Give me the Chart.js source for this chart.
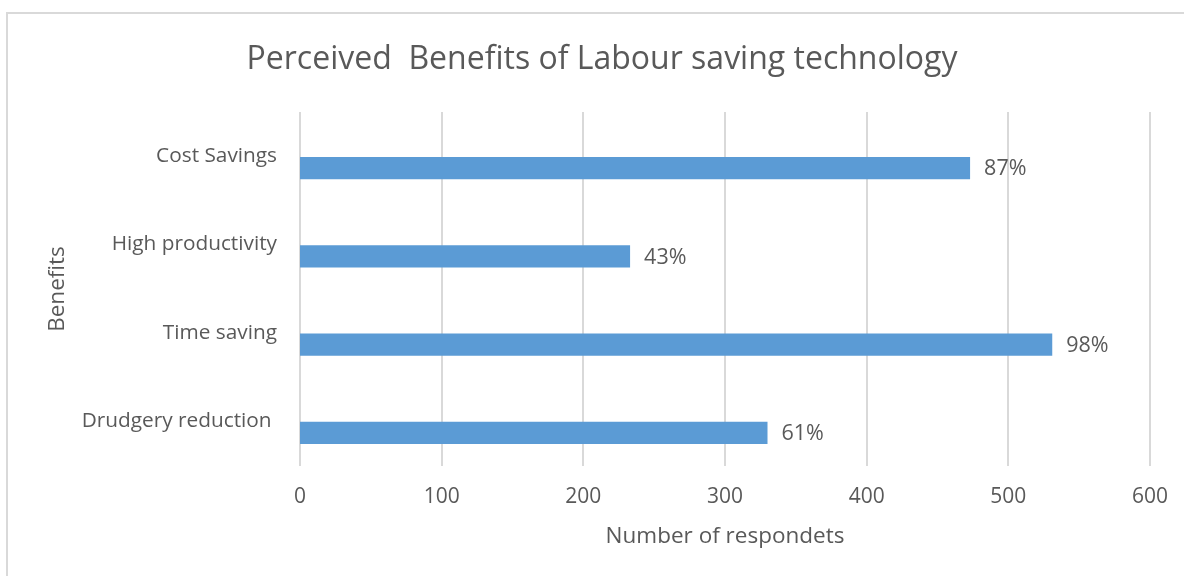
<!DOCTYPE html>
<html>
<head>
<meta charset="utf-8">
<title>Perceived Benefits of Labour saving technology</title>
<script src="https://cdn.jsdelivr.net/npm/chart.js@4.4.1/dist/chart.umd.min.js"></script>
<style>
  html, body { margin: 0; padding: 0; background: #ffffff; overflow: hidden; }
  #frame {
    position: absolute; left: 6px; top: 12px; width: 1300px; height: 700px;
    border-left: 2px solid #d9d9d9; border-top: 2px solid #d9d9d9;
  }
  #chart { position: absolute; left: 0; top: 0; }
</style>
</head>
<body>
<div id="frame"></div>
<canvas id="chart" width="1184" height="576"></canvas>
<script>
// Benefits listed top to bottom
const benefits = ['Cost Savings', 'High productivity', 'Time saving', 'Drudgery reduction '];
// Respondents naming each benefit
const respondents = [473, 233, 531, 330];
// Total respondents surveyed (base for the percentage labels)
const totalRespondents = 542;
// Ticks on the respondent axis
const xTicks = [0, 100, 200, 300, 400, 500, 600];

const FONT = "'Open Sans', 'DejaVu Sans', sans-serif";
const TEXT = '#595959';
const GRID = '#d9d9d9';

// Plot frame: vertical gridlines at each x tick, sitting slightly higher than the
// category bands, plus the vertical axis title centred on that frame
const plotFrame = {
  id: 'plotFrame',
  beforeDatasetsDraw(chart) {
    const { ctx, chartArea, scales } = chart;
    const x = scales.x;
    const top = chartArea.top - 12;
    const bottom = chartArea.bottom - 11;
    ctx.save();
    ctx.strokeStyle = GRID;
    ctx.lineWidth = 2;
    x.ticks.forEach(t => {
      const px = Math.round(x.getPixelForValue(t.value));
      ctx.beginPath();
      ctx.moveTo(px, top);
      ctx.lineTo(px, bottom);
      ctx.stroke();
    });
    ctx.translate(scales.y.left + 4, (top + bottom) / 2);
    ctx.rotate(-Math.PI / 2);
    ctx.font = '22.5px ' + FONT;
    ctx.fillStyle = TEXT;
    ctx.textAlign = 'center';
    ctx.textBaseline = 'middle';
    ctx.fillText('Benefits', 0, 0);
    ctx.restore();
  }
};

// Share of respondents printed at the end of each bar
const percentLabels = {
  id: 'percentLabels',
  afterDatasetsDraw(chart) {
    const ctx = chart.ctx;
    const meta = chart.getDatasetMeta(0);
    ctx.save();
    ctx.font = '21.5px ' + FONT;
    ctx.fillStyle = TEXT;
    ctx.textAlign = 'left';
    ctx.textBaseline = 'middle';
    meta.data.forEach((bar, i) => {
      const pct = Math.round(respondents[i] / totalRespondents * 100);
      ctx.fillText(pct + '%', bar.x + 14, bar.y + 1);
    });
    ctx.restore();
  }
};

new Chart(document.getElementById('chart'), {
  type: 'bar',
  data: {
    labels: benefits,
    datasets: [{
      data: respondents,
      backgroundColor: '#5b9bd5',
      borderWidth: 0,
      barPercentage: 0.254,
      categoryPercentage: 1
    }]
  },
  options: {
    indexAxis: 'y',
    responsive: false,
    animation: false,
    layout: { padding: { left: 54, right: 34, top: 0, bottom: 0 } },
    plugins: {
      legend: { display: false },
      tooltip: { enabled: false },
      title: {
        display: true,
        text: 'Perceived  Benefits of Labour saving technology',
        color: TEXT,
        font: { family: FONT, size: 32, weight: 'normal', lineHeight: 1.2 },
        padding: { top: 41, bottom: 44.6 }
      }
    },
    scales: {
      x: {
        min: 0,
        max: 600,
        afterBuildTicks(scale) { scale.ticks = xTicks.map(v => ({ value: v })); },
        afterFit(scale) { scale.height = 99; },
        grid: { display: false, drawTicks: false },
        border: { display: false },
        ticks: { color: TEXT, font: { family: FONT, size: 21 }, padding: 7.5 },
        title: {
          display: true,
          text: 'Number of respondets',
          color: TEXT,
          font: { family: FONT, size: 22.5, lineHeight: 1.2 },
          padding: { top: 0, bottom: 25.5 }
        }
      },
      y: {
        afterFit(scale) { scale.width = 246; },
        grid: { display: false, drawTicks: false },
        border: { display: false },
        ticks: { color: TEXT, font: { family: FONT, size: 20.8 }, padding: 23, labelOffset: -12 }
      }
    }
  },
  plugins: [plotFrame, percentLabels]
});
</script>
</body>
</html>
